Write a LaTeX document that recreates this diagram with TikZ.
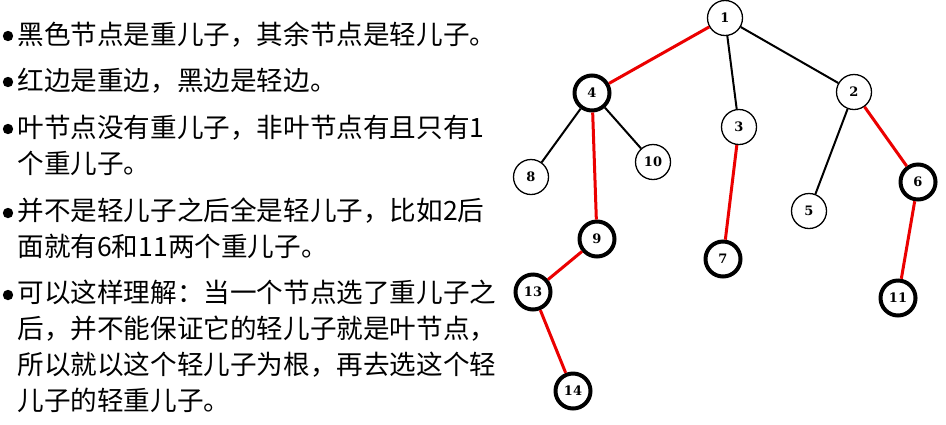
\documentclass[tikz,border=0pt]{standalone}
\usepackage{fontspec}
\newfontfamily\cjk{Noto Sans CJK SC}
\newfontfamily\numfont{DejaVu Serif}
\usetikzlibrary{positioning}
\tikzset{
  treenode/.style={draw, circle, fill=white, minimum size=17.5pt, inner sep=0pt, line width=0.65pt,
    font=\numfont\bfseries\fontsize{6.5}{7}\selectfont},
  heavynode/.style={treenode, line width=2pt},
  heavyedge/.style={draw=red!92!black, line width=1.5pt},
  lightedge/.style={draw=black, line width=1pt},
}

\begin{document}
\begin{tikzpicture}[
  x=0.5pt, y=-0.5pt,
  % base anchor of a multi-line node sits on its last line
  bulletline/.style={anchor=base west, inner sep=0pt, align=left, font=\cjk\fontsize{13.3}{18}\selectfont},
  dot/.style={circle, fill=black, inner sep=0pt, minimum size=5.2pt},
]
  \useasboundingbox (0,0) rectangle (946,424);

  % bullet list
  \node[dot] (d1) at (8,36) {};
  \node[bulletline] (t1) at (17,44) {黑色节点是重儿子，其余节点是轻儿子。};
  \node[dot] (d2) at (8,82) {};
  \node[bulletline] (t2) at (17,90) {红边是重边，黑边是轻边。};
  \node[dot] (d3) at (8,129) {};
  \node[bulletline] (t3) at (17,173) {叶节点没有重儿子，非叶节点有且只有1\\个重儿子。};
  \node[dot] (d4) at (8,213) {};
  \node[bulletline] (t4) at (17,256) {并不是轻儿子之后全是轻儿子，比如2后\\面就有6和11两个重儿子。};
  \node[dot] (d5) at (8,295) {};
  \node[bulletline] (t5) at (17,410) {可以这样理解：当一个节点选了重儿子之\\后，并不能保证它的轻儿子就是叶节点，\\所以就以这个轻儿子为根，再去选这个轻\\儿子的轻重儿子。};

  % tree
  \node[treenode]  (n1)  at (725,18)  {1};
  \node[heavynode] (n4)  at (592,93)  {4};
  \node[treenode]  (n3)  at (739,127) {3};
  \node[treenode]  (n2)  at (854,92)  {2};
  \node[treenode]  (n8)  at (531,177) {8};
  \node[treenode]  (n10) at (653,162) {10};
  \node[heavynode] (n6)  at (918,182) {6};
  \node[treenode]  (n5)  at (809,211) {5};
  \node[heavynode] (n9)  at (597,239) {9};
  \node[heavynode] (n7)  at (723,259) {7};
  \node[heavynode] (n13) at (533,292) {13};
  \node[heavynode] (n11) at (898,298) {11};
  \node[heavynode] (n14) at (573,391) {14};

  \foreach \a/\b in {n1/n4, n4/n9, n9/n13, n13/n14, n3/n7, n2/n6, n6/n11}
    \draw[heavyedge] (\a) -- (\b);
  \foreach \a/\b in {n1/n3, n1/n2, n4/n8, n4/n10, n2/n5}
    \draw[lightedge] (\a) -- (\b);
\end{tikzpicture}
\end{document}
